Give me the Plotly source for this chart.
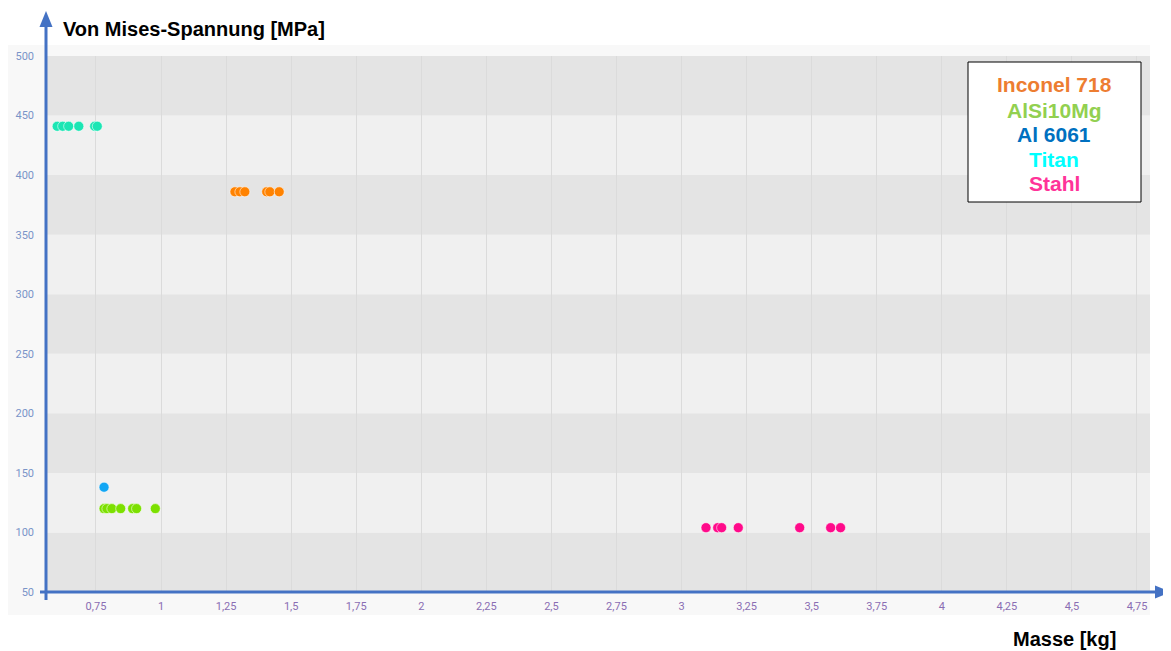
import plotly.graph_objects as go

# ---- data ----
titan_x = [0.601, 0.622, 0.645, 0.684, 0.745, 0.755]
titan_y = [441, 441, 441, 441, 441, 441]

inconel_x = [1.284, 1.303, 1.322, 1.406, 1.418, 1.454]
inconel_y = [386, 386, 386, 386, 386, 386]

al6061_x = [0.781]
al6061_y = [138]

alsi_x = [0.781, 0.792, 0.811, 0.845, 0.891, 0.906, 0.978]
alsi_y = [120, 120, 120, 120, 120, 120, 120]

stahl_x = [3.094, 3.139, 3.154, 3.218, 3.454, 3.573, 3.611]
stahl_y = [104, 104, 104, 104, 104, 104, 104]

x_ticks = [0.75, 1, 1.25, 1.5, 1.75, 2, 2.25, 2.5, 2.75, 3, 3.25, 3.5, 3.75, 4, 4.25, 4.5, 4.75]
x_tick_labels = ["0,75", "1", "1,25", "1,5", "1,75", "2", "2,25", "2,5", "2,75", "3",
                 "3,25", "3,5", "3,75", "4", "4,25", "4,5", "4,75"]
y_ticks = [50, 100, 150, 200, 250, 300, 350, 400, 450, 500]

legend_names = ["Inconel 718", "AlSi10Mg", "Al 6061", "Titan", "Stahl"]
legend_colors = ["#ed7d31", "#92d050", "#0070c0", "#00ffff", "#ff3399"]

# ---- figure ----
fig = go.Figure()

marker_line = dict(color="rgba(255,255,255,0.55)", width=1)
series = [
    ("Titan", titan_x, titan_y, "#1be6b4"),
    ("Inconel 718", inconel_x, inconel_y, "#ff8200"),
    ("Al 6061", al6061_x, al6061_y, "#12a6f4"),
    ("AlSi10Mg", alsi_x, alsi_y, "#7ce000"),
    ("Stahl", stahl_x, stahl_y, "#ff0a8a"),
]
for name, xs, ys, col in series:
    fig.add_trace(go.Scatter(x=xs, y=ys, mode="markers", name=name,
                             marker=dict(size=10, color=col, line=marker_line)))

PW, PH = 1104.0, 536.0  # plot area size in pixels (screen: x 46..1150, y 56..592)


def px(x):
    return (x - 46) / PW


def py(y):
    return (592 - y) / PH


shapes = []
# outer light panel
shapes.append(dict(type="rect", xref="paper", yref="paper", x0=px(8), x1=px(1150),
                   y0=py(615), y1=py(45), fillcolor="#f8f8f8", line=dict(width=0),
                   layer="below"))
# alternating bands
for i in range(len(y_ticks) - 1):
    shapes.append(dict(type="rect", xref="paper", yref="y", x0=0, x1=1,
                       y0=y_ticks[i], y1=y_ticks[i + 1],
                       fillcolor="#e4e4e4" if i % 2 == 0 else "#f0f0f0",
                       line=dict(width=0), layer="below"))

axis_blue = "#4472c4"
# vertical axis arrow
shapes.append(dict(type="line", xref="paper", yref="paper", x0=0, x1=0,
                   y0=py(600), y1=py(24), line=dict(color=axis_blue, width=3)))
shapes.append(dict(type="path", xref="paper", yref="paper",
                   path="M %f,%f L %f,%f L %f,%f Z" % (px(39.5), py(27), px(52.5), py(27), px(46), py(11)),
                   fillcolor=axis_blue, line=dict(width=0)))
# horizontal axis arrow
shapes.append(dict(type="line", xref="paper", yref="paper", x0=px(40), x1=px(1158),
                   y0=0, y1=0, line=dict(color=axis_blue, width=3)))
shapes.append(dict(type="path", xref="paper", yref="paper",
                   path="M %f,%f L %f,%f L %f,%f Z" % (px(1155), py(585.5), px(1155), py(598.5), px(1171), py(592)),
                   fillcolor=axis_blue, line=dict(width=0)))
# legend box
shapes.append(dict(type="rect", xref="paper", yref="paper",
                   x0=px(968), x1=px(1141), y0=py(202), y1=py(62),
                   fillcolor="white", line=dict(color="black", width=1)))

annotations = []
line_y = [85, 110, 134, 159, 183]
for name, col, ly in zip(legend_names, legend_colors, line_y):
    annotations.append(dict(text="<b>%s</b>" % name, xref="paper", yref="paper",
                            x=px(1054), y=py(ly),
                            xanchor="center", yanchor="middle", showarrow=False,
                            font=dict(family="Liberation Sans, Arial", size=21, color=col)))
annotations.append(dict(text="<b>Von Mises-Spannung [MPa]</b>", xref="paper", yref="paper",
                        x=px(61), y=py(29), xanchor="left",
                        yanchor="middle", showarrow=False,
                        font=dict(family="Liberation Sans, Arial", size=20, color="black")))
annotations.append(dict(text="<b>Masse [kg]</b>", xref="paper", yref="paper",
                        x=px(1118), y=py(639), xanchor="right",
                        yanchor="middle", showarrow=False,
                        font=dict(family="Liberation Sans, Arial", size=20, color="black")))

# page has an 8px body margin: figure spans screen 8..1171, 8..651
fig.update_layout(
    width=1163, height=643,
    margin=dict(l=38, r=21, t=48, b=59),
    paper_bgcolor="white",
    plot_bgcolor="#f0f0f0",
    showlegend=False,
    shapes=shapes,
    annotations=annotations,
    xaxis=dict(range=[0.558, 4.80], tickvals=x_ticks, ticktext=x_tick_labels,
               showgrid=True, gridcolor="#dbdbdb", gridwidth=1, zeroline=False,
               showline=False, ticks="", ticklabelstandoff=6, automargin=False,
               tickfont=dict(family="Roboto", size=11, color="#8a6db3")),
    yaxis=dict(range=[50, 500], tickvals=y_ticks, showgrid=False, zeroline=False,
               showline=False, ticks="", ticklabelstandoff=11, automargin=False,
               tickfont=dict(family="Roboto", size=11, color="#7a94c8")),
)

fig.write_html("out.html")
